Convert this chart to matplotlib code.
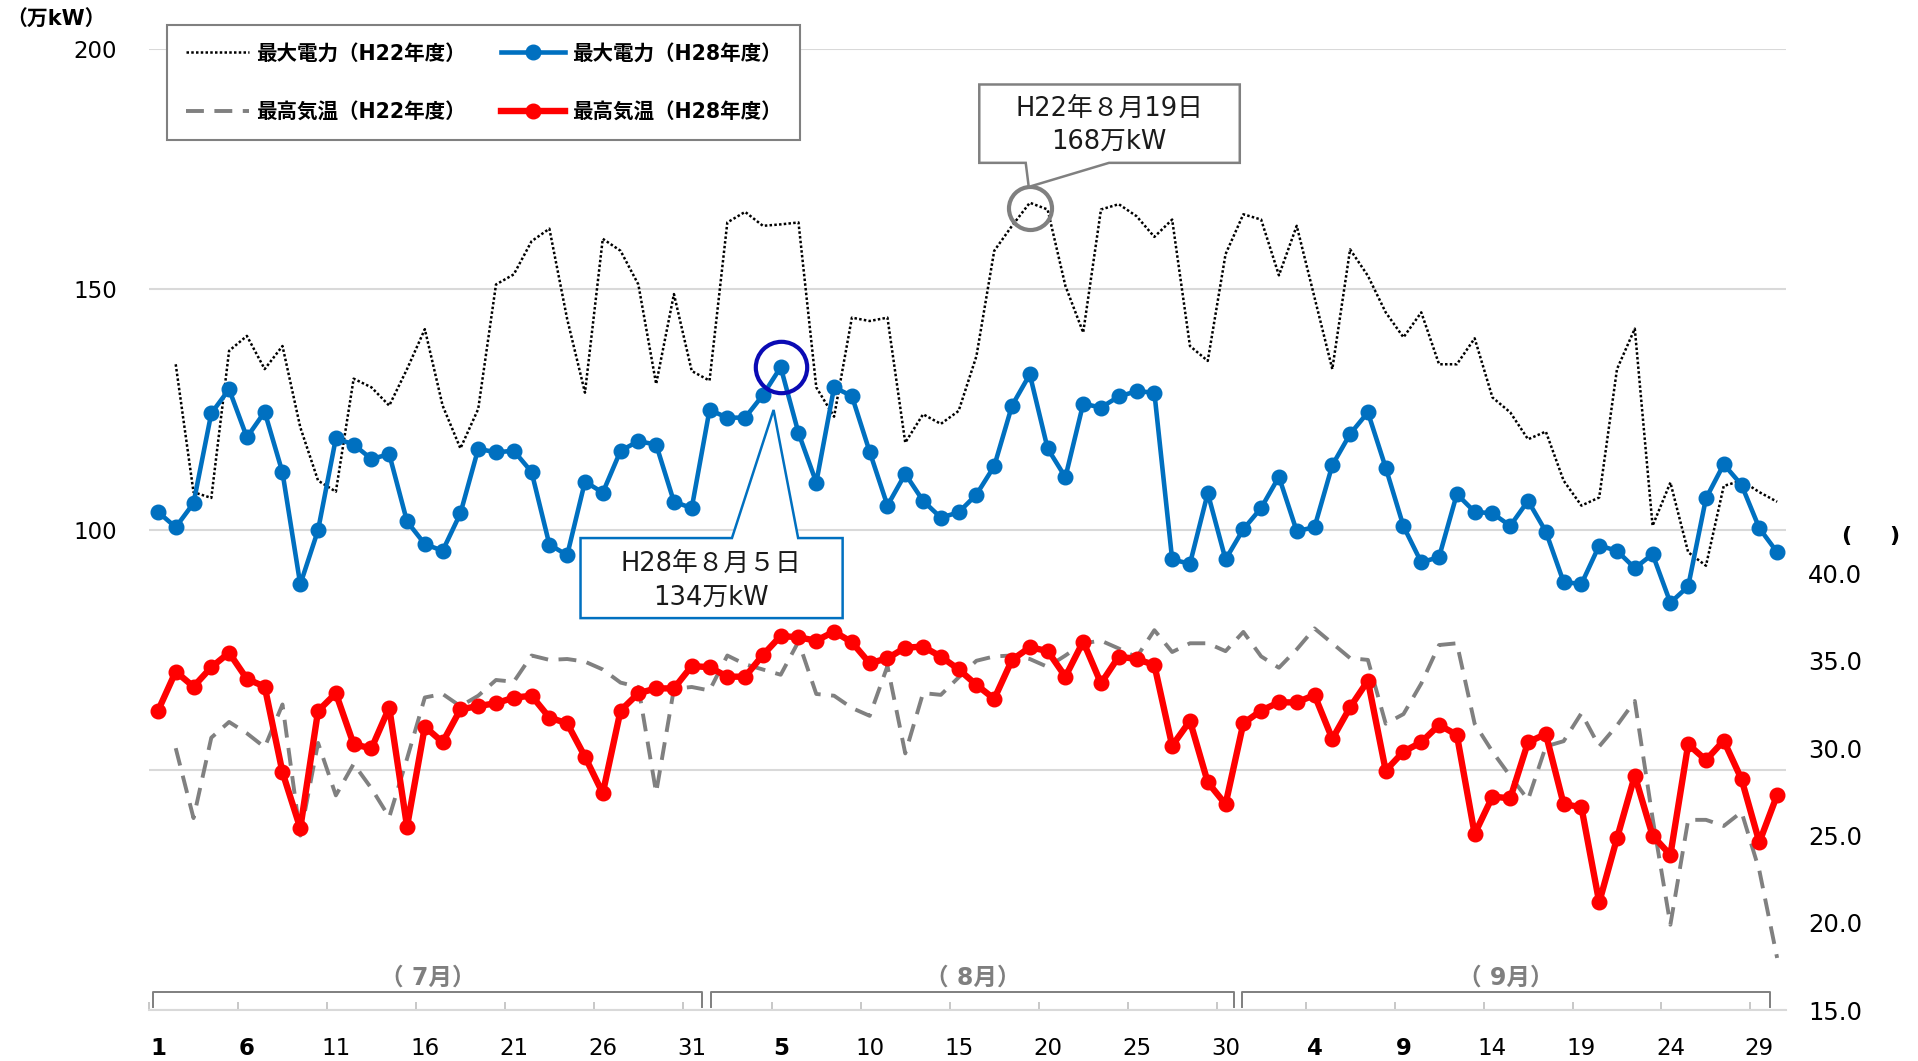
import numpy as np
import matplotlib.pyplot as plt
from matplotlib.patches import Polygon

plt.rcParams['font.family'] = ['DejaVu Sans', 'Noto Sans CJK JP']

# 7/1 - 9/30 (92 days)
days = np.arange(92)
tick_pos = np.arange(0, 92, 5)
tick_labels = ['1', '6', '11', '16', '21', '26', '31', '5', '10', '15', '20',
               '25', '30', '4', '9', '14', '19', '24', '29']
bold_idx = [0, 1, 7, 13, 14]
months = ['（ 7月）', '（ 8月）', '（ 9月）']

# maximum power (万kW)
power_h28 = [103.7, 100.5, 105.5, 124.2, 129.2, 119.2, 124.5, 111.9, 88.6, 99.9,
             119.0, 117.7, 114.7, 115.7, 101.7, 97.0, 95.6, 103.4, 116.8, 116.1,
             116.4, 112.0, 96.9, 94.7, 110.0, 107.7, 116.4, 118.4, 117.7, 105.8,
             104.5, 124.9, 123.3, 123.3, 128.0, 133.8, 120.1, 109.8, 129.6, 127.8,
             116.2, 105.0, 111.6, 106.0, 102.5, 103.6, 107.3, 113.2, 125.8, 132.3,
             116.9, 110.9, 126.2, 125.4, 127.7, 128.8, 128.5, 93.8, 92.9, 107.6,
             93.8, 100.1, 104.5, 111.0, 99.7, 100.5, 113.4, 119.9, 124.4, 112.9,
             100.7, 93.2, 94.3, 107.4, 103.7, 103.4, 100.8, 106.0, 99.6, 89.1,
             88.7, 96.7, 95.6, 92.0, 94.9, 84.8, 88.2, 106.5, 113.6, 109.3,
             100.3, 95.3]
power_h22 = [np.nan, 134.4, 107.8, 106.6, 137.2, 140.3, 133.4, 138.2, 121.3, 110.2,
             107.9, 131.4, 129.6, 125.8, 133.4, 141.7, 125.8, 116.9, 125.1, 151.0,
             153.1, 160.0, 162.6, 143.8, 128.5, 160.5, 158.0, 151.0, 130.3, 149.0,
             133.0, 131.0, 163.9, 166.1, 163.2, 163.5, 163.9, 129.6, 123.5, 144.1,
             143.4, 144.1, 118.1, 124.0, 122.0, 124.7, 136.1, 158.0, 163.2, 168.0,
             166.6, 150.7, 141.0, 166.6, 167.7, 165.2, 160.9, 164.5, 138.2, 135.1,
             157.3, 165.6, 164.5, 152.9, 163.2, 148.3, 133.4, 158.3, 152.8, 145.2,
             140.0, 145.2, 134.4, 134.4, 139.8, 127.5, 124.4, 118.8, 120.4, 110.2,
             105.0, 106.7, 133.4, 141.8, 100.8, 109.8, 95.3, 92.5, 109.1, 110.2,
             107.8, 105.8]

# maximum temperature
temp_h28 = [32.13, 34.38, 33.52, 34.63, 35.46, 33.96, 33.52, 28.62, 25.42, 32.13,
            33.14, 30.22, 29.99, 32.32, 25.51, 31.23, 30.34, 32.22, 32.41, 32.57,
            32.89, 33.0, 31.75, 31.42, 29.51, 27.42, 32.15, 33.14, 33.42, 33.42,
            34.70, 34.63, 34.09, 34.09, 35.33, 36.42, 36.34, 36.15, 36.67, 36.06,
            34.86, 35.14, 35.75, 35.81, 35.24, 34.51, 33.62, 32.82, 35.05, 35.77,
            35.56, 34.09, 36.1, 33.71, 35.24, 35.1, 34.76, 30.14, 31.56, 28.05,
            26.79, 31.42, 32.15, 32.62, 32.62, 33.04, 30.53, 32.34, 33.86, 28.72,
            29.8, 30.34, 31.33, 30.76, 25.09, 27.23, 27.13, 30.34, 30.81, 26.8,
            26.62, 21.18, 24.85, 28.43, 25.0, 23.89, 30.22, 29.32, 30.43, 28.22,
            24.62, 27.32]
temp_h22 = [np.nan, 30.0, 26.0, 30.6, 31.5, 30.85, 30.05, 32.5, 25.0, 30.3,
            27.3, 29.1, 27.7, 26.05, 29.4, 32.9, 33.1, 32.4, 33.0, 33.9,
            33.8, 35.3, 35.05, 35.1, 34.95, 34.5, 33.75, 33.5, 27.45, 33.4,
            33.5, 33.3, 35.3, 34.8, 34.5, 34.2, 36.1, 33.1, 33.0, 32.3,
            31.85, 34.7, 29.7, 33.15, 33.05, 34.05, 35.0, 35.25, 35.3, 35.1,
            34.65, 35.3, 36.0, 36.15, 35.7, 35.2, 36.75, 35.5, 36.0, 36.0,
            35.55, 36.65, 35.25, 34.6, 35.65, 36.85, 36.0, 35.15, 35.05, 31.4,
            31.95, 33.7, 35.9, 36.0, 31.4, 29.8, 28.4, 27.05, 30.1, 30.4,
            32.0, 30.1, 31.3, 32.7, 26.0, 19.9, 25.9, 25.9, 25.55, 26.35,
            23.0, 18.0]

fig = plt.figure(figsize=(19.18, 10.61), dpi=100)
ax = fig.add_axes([0.0777, 0.0477, 0.8535, 0.9062])
ax2 = ax.twinx()

l22, = ax.plot(days, power_h22, color='black', lw=1.8, ls=(0, (1, 0.9)),
               label='最大電力（H22年度）', zorder=3)
l28, = ax.plot(days, power_h28, color='#0070C0', lw=3.3, marker='o', ms=10.5,
               label='最大電力（H28年度）', zorder=4)
t22, = ax2.plot(days, temp_h22, color='#808080', lw=2.8, ls=(0, (4.6, 2.7)),
                label='最高気温（H22年度）', zorder=3)
t28, = ax2.plot(days, temp_h28, color='#FF0000', lw=4.6, marker='o', ms=10.5,
                label='最高気温（H28年度）', zorder=4)

ax.set_xlim(-0.5, 91.5)
ax.set_ylim(0, 200)
ax2.set_ylim(15, 70)

ax.set_yticks([0, 50, 100, 150, 200])
ax.set_yticklabels(['', '', '100', '150', '200'])
ax.yaxis.grid(True, color='#d9d9d9', lw=1.5)
ax.set_axisbelow(True)
ax.tick_params(axis='y', length=0, pad=23, labelsize=16.5)

ax.set_xticks(tick_pos)
ax.set_xticklabels(tick_labels)
ax.set_xticks(np.arange(-0.5, 91, 5), minor=True)
ax.tick_params(axis='x', which='major', length=0, pad=19, labelsize=16.5)
ax.tick_params(axis='x', which='minor', direction='in', length=6,
               color='#bfbfbf', width=1.2)
for i in bold_idx:
    ax.get_xticklabels()[i].set_fontweight('bold')

ax2.set_yticks([15, 20, 25, 30, 35, 40])
ax2.set_yticklabels(['15.0', '20.0', '25.0', '30.0', '35.0', '40.0'])
ax2.tick_params(axis='y', length=0, pad=16, labelsize=17.5)

for s in ['top', 'left', 'right']:
    ax.spines[s].set_visible(False)
ax.spines['bottom'].set_color('#d9d9d9')
ax.spines['bottom'].set_linewidth(1.5)
for s in ax2.spines.values():
    s.set_visible(False)

# month brackets under the axis
brackets = [(-0.25, 30.55), (31.1, 60.45), (60.9, 90.6)]
tr = ax.get_xaxis_transform()
for (x0, x1), m in zip(brackets, months):
    ax.plot([x0, x0, x1, x1], [0.004, 0.019, 0.019, 0.004], color='#7f7f7f',
            lw=1.4, transform=tr, clip_on=False)
    ax.text((x0 + x1) / 2, 0.034, m, transform=tr, ha='center', va='center',
            fontsize=17, fontweight='bold', color='#7f7f7f')

# callout: H28 peak
ax.plot(days[35], power_h28[35], 'o', ms=37, mfc='none', mec='#0A0AB4',
        mew=3.0, zorder=6)
box1 = Polygon([(23.75, 81.6), (23.75, 98.25), (32.26, 98.25), (34.6, 124.9),
                (35.98, 98.25), (38.48, 98.25), (38.48, 81.6)], closed=True,
               facecolor='white', edgecolor='#0070C0', lw=1.8, zorder=7)
ax.add_patch(box1)
ax.text(31.1, 92.9, 'H28年８月５日', ha='center', va='center',
        fontsize=18.5, color='#1a1a1a', zorder=8)
ax.text(31.1, 85.8, '134万kW', ha='center', va='center',
        fontsize=18.5, color='#1a1a1a', zorder=8)

# callout: H22 peak
ax.plot(days[49], power_h22[49] - 1, 'o', ms=31, mfc='none', mec='#808080',
        mew=3.0, zorder=6)
box2 = Polygon([(46.16, 176.3), (46.16, 192.6), (60.8, 192.6), (60.8, 176.3),
                (53.45, 176.3), (48.94, 171.3), (48.77, 176.3)], closed=True,
               facecolor='white', edgecolor='#808080', lw=1.8, zorder=7)
ax.add_patch(box2)
ax.text(53.45, 187.6, 'H22年８月19日', ha='center', va='center',
        fontsize=18.5, color='#1a1a1a', zorder=8)
ax.text(53.45, 180.7, '168万kW', ha='center', va='center',
        fontsize=18.5, color='#1a1a1a', zorder=8)

leg = fig.legend(handles=[l22, t22, l28, t28], ncol=2, loc='upper left',
                 bbox_to_anchor=(167 / 1918, 1 - 25 / 1061), borderaxespad=0,
                 frameon=True, fancybox=False, edgecolor='#808080', framealpha=1,
                 prop={'weight': 'bold', 'size': 14.8}, handlelength=3.1,
                 handletextpad=0.35, columnspacing=1.7, labelspacing=1.87,
                 borderpad=0.9)
leg.get_frame().set_linewidth(1.5)

fig.text(6 / 1918, 1 - 20 / 1061, '（万kW）', ha='left', va='center',
         fontsize=15, fontweight='bold')
fig.text(1871 / 1918, 1 - 536 / 1061, '(　  )', ha='center', va='center',
         fontsize=16, fontweight='bold')

fig.savefig('out.png', dpi=100)
